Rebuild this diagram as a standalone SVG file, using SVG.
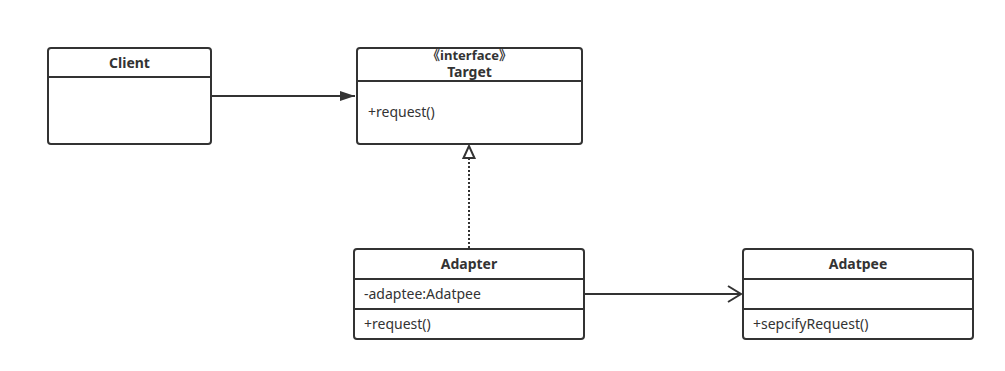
<svg xmlns="http://www.w3.org/2000/svg" width="1005" height="371" viewBox="0 0 1005 371">
<style>
.box{fill:#fff;stroke:#333;stroke-width:2}
.ln{stroke:#333;stroke-width:2;fill:none}
.t{font-family:"Noto Sans","Noto Sans CJK SC",sans-serif;font-size:14px;fill:#333}
.b{font-weight:bold;text-anchor:middle}
</style>
<defs>
<marker id="fill" markerWidth="16" markerHeight="12" refX="15" refY="6" orient="auto" markerUnits="userSpaceOnUse"><path d="M0,1 L15,6 L0,11 Z" fill="#333"/></marker>
<marker id="hollow" markerWidth="14" markerHeight="16" refX="13" refY="7" orient="auto" markerUnits="userSpaceOnUse"><path d="M1,1.5 L13,7 L1,12.5 Z" fill="#fff" stroke="#333" stroke-width="2"/></marker>
<marker id="open" markerWidth="16" markerHeight="20" refX="14" refY="9" orient="auto" markerUnits="userSpaceOnUse"><path d="M1,1 L14,9 L1,17" fill="none" stroke="#333" stroke-width="2"/></marker>
</defs>
<g id="connectors">
<line class="ln" x1="212" y1="96" x2="355" y2="96" marker-end="url(#fill)"/>
<line class="ln" x1="469" y1="248" x2="469" y2="146" stroke-dasharray="2,2" marker-end="url(#hollow)"/>
<line class="ln" x1="585" y1="294" x2="741" y2="294" marker-end="url(#open)"/>
</g>
<g id="client">
<rect class="box" x="48" y="48" width="163" height="96" rx="3"/>
<line class="ln" x1="48" y1="77" x2="211" y2="77"/>
<text class="t b" x="129.5" y="68">Client</text>
</g>
<g id="target">
<rect class="box" x="357" y="48" width="225" height="96" rx="3"/>
<line class="ln" x1="357" y1="81" x2="582" y2="81"/>
<text class="t b" x="469.5" y="60" style="font-size:13px">《interface》</text>
<text class="t b" x="469.5" y="77">Target</text>
<text class="t" x="368" y="117">+request()</text>
</g>
<g id="adapter">
<rect class="box" x="354" y="249" width="230" height="90" rx="3"/>
<line class="ln" x1="354" y1="279" x2="584" y2="279"/>
<line class="ln" x1="354" y1="309" x2="584" y2="309"/>
<text class="t b" x="469" y="269">Adapter</text>
<text class="t" x="364" y="299">-adaptee:Adatpee</text>
<text class="t" x="364" y="329">+request()</text>
</g>
<g id="adatpee">
<rect class="box" x="743" y="249" width="230" height="90" rx="3"/>
<line class="ln" x1="743" y1="279" x2="973" y2="279"/>
<line class="ln" x1="743" y1="309" x2="973" y2="309"/>
<text class="t b" x="858" y="269">Adatpee</text>
<text class="t" x="753" y="329">+sepcifyRequest()</text>
</g>
</svg>
